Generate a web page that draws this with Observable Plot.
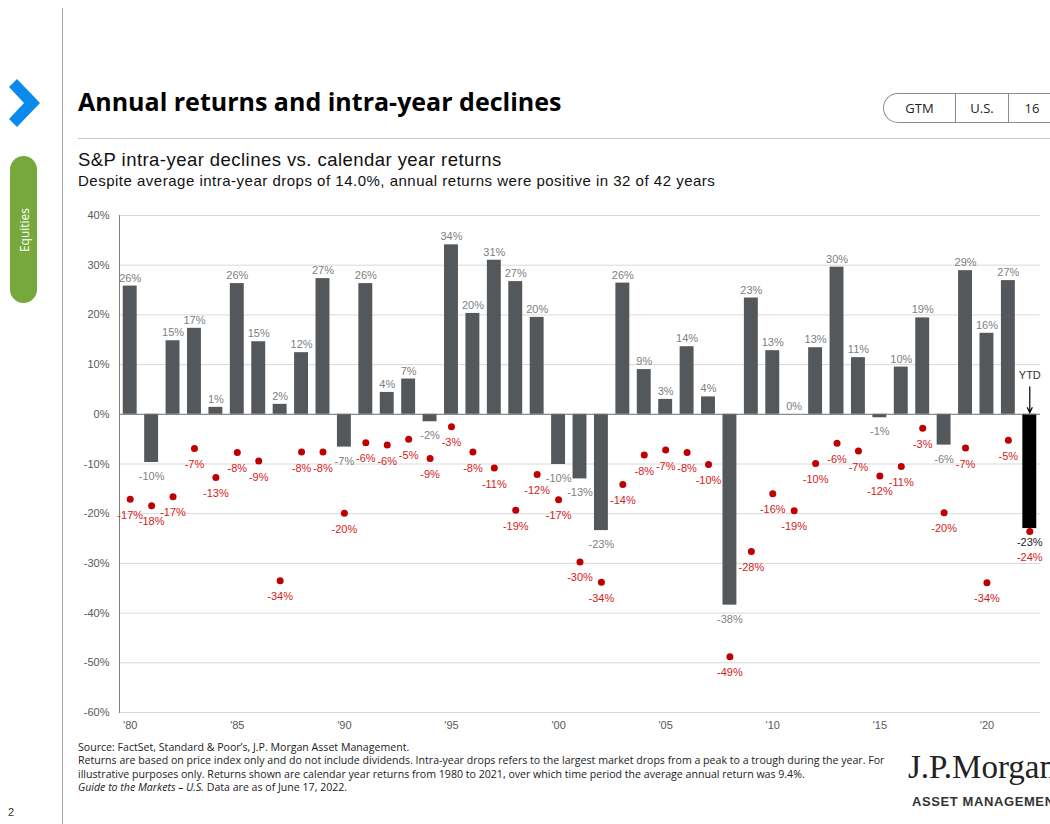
<!DOCTYPE html>
<html><head><meta charset="utf-8">
<script src="https://cdn.jsdelivr.net/npm/d3@7"></script>
<script src="https://cdn.jsdelivr.net/npm/@observablehq/plot@0.6"></script>
<style>
html,body{margin:0;padding:0;background:#fff;}
body{width:1050px;height:824px;overflow:hidden;position:relative;font-family:"Liberation Sans",Arial,sans-serif;color:#000;}
.abs{position:absolute;white-space:nowrap;}
#title{left:78px;top:84px;font-family:"Open Sans",sans-serif;font-weight:700;font-size:25px;line-height:34px;color:#000;}
#sub1{left:78px;top:150px;font-size:18.5px;line-height:20px;color:#111;letter-spacing:0.45px;}
#sub2{left:78px;top:172px;font-size:15px;line-height:18px;color:#111;letter-spacing:0.5px;}
#foot{left:78px;top:741px;font-family:"Open Sans",sans-serif;font-size:10.6px;line-height:13.4px;color:#222;}
#gtm{left:883px;top:93px;width:200px;height:28px;border:1px solid #8c8c8c;border-right:none;border-radius:15px 0 0 15px;font-family:"Open Sans",sans-serif;font-size:13px;color:#222;}
#gtm span{position:absolute;top:0;line-height:28px;text-align:center;}
.div{position:absolute;top:0;width:1px;height:28px;background:#8c8c8c;}
#pill{left:10px;top:156px;width:27px;height:147px;border-radius:14px;background:#76a83b;}
#pill span{position:absolute;left:50%;top:50%;transform:translate(-50%,-50%) rotate(-90deg);color:#fff;font-family:"Open Sans",sans-serif;font-size:12px;}
#logo1{left:908px;top:749px;font-family:"Liberation Serif",serif;font-size:33px;line-height:36px;color:#222;letter-spacing:0px;}
#logo2{left:912px;top:794px;font-family:"Liberation Sans",sans-serif;font-size:13px;line-height:16px;color:#333;letter-spacing:0.6px;font-weight:700;}
</style></head><body>
<div class="abs" style="left:62px;top:8px;width:1px;height:816px;background:#a6a6a6;"></div>
<svg class="abs" style="left:0;top:70px;" width="50" height="70"><polygon points="9,17 17,9 40,33 17,57 9,49 24,33" fill="#0b8aee"/></svg>
<div id="pill" class="abs"><span>Equities</span></div>
<div class="abs" style="left:8px;top:806px;font-size:11px;color:#333;">2</div>
<div id="title" class="abs">Annual returns and intra-year declines</div>
<div class="abs" style="left:78px;top:138px;width:972px;height:1px;background:#c8c8c8;"></div>
<div id="gtm" class="abs">
  <span style="left:0;width:71px;">GTM</span>
  <div class="div" style="left:71px;"></div>
  <span style="left:72px;width:52px;">U.S.</span>
  <div class="div" style="left:124px;"></div>
  <span style="left:125px;width:46px;">16</span>
</div>
<div id="sub1" class="abs">S&amp;P intra-year declines vs. calendar year returns</div>
<div id="sub2" class="abs">Despite average intra-year drops of 14.0%, annual returns were positive in 32 of 42 years</div>
<div id="chart" class="abs" style="left:60px;top:205px;"></div>
<div id="foot" class="abs">Source: FactSet, Standard &amp; Poor’s, J.P. Morgan Asset Management.<br>Returns are based on price index only and do not include dividends. Intra-year drops refers to the largest market drops from a peak to a trough during the year. For<br>illustrative purposes only. Returns shown are calendar year returns from 1980 to 2021, over which time period the average annual return was 9.4%.<br><i>Guide to the Markets – U.S.</i> Data are as of June 17, 2022.</div>
<div id="logo1" class="abs">J.P.Morgan</div>
<div id="logo2" class="abs">ASSET MANAGEMENT</div>
<script>
const years = [1980,1981,1982,1983,1984,1985,1986,1987,1988,1989,1990,1991,1992,1993,1994,1995,1996,1997,1998,1999,2000,2001,2002,2003,2004,2005,2006,2007,2008,2009,2010,2011,2012,2013,2014,2015,2016,2017,2018,2019,2020,2021,2022];
const annualReturns = [25.8,-9.7,14.8,17.3,1.4,26.3,14.6,2.0,12.4,27.3,-6.6,26.3,4.4,7.1,-1.5,34.1,20.3,31.0,26.7,19.5,-10.1,-13.0,-23.4,26.4,9.0,3.0,13.6,3.5,-38.4,23.4,12.8,0.0,13.4,29.6,11.4,-0.7,9.5,19.4,-6.2,28.9,16.3,26.9,-23.0];
const intraYearDeclines = [-17.1,-18.4,-16.6,-6.9,-12.7,-7.7,-9.4,-33.5,-7.6,-7.6,-19.9,-5.7,-6.2,-5.0,-8.9,-2.5,-7.6,-10.8,-19.3,-12.1,-17.2,-29.7,-33.8,-14.1,-8.2,-7.2,-7.7,-10.1,-48.8,-27.6,-16.0,-19.4,-9.9,-5.8,-7.4,-12.4,-10.5,-2.8,-19.8,-6.8,-33.9,-5.2,-23.6];
const yTicks = [40,30,20,10,0,-10,-20,-30,-40,-50,-60];
const yTickLabels = ["40%","30%","20%","10%","0%","-10%","-20%","-30%","-40%","-50%","-60%"];
const xTickYears = [1980,1985,1990,1995,2000,2005,2010,2015,2020];
const xTickLabels = ["'80","'85","'90","'95","'00","'05","'10","'15","'20"];
const ytdYear = 2022;
const ytdLabel = "YTD";
const ytdArrow = {top: 5.5, bottom: 0.3, label: 7.8};

const data = years.map((year, i) => ({year, ret: annualReturns[i], drop: intraYearDeclines[i]}));
const fmt = v => `${Math.sign(v) * Math.round(Math.abs(v))}%`;
const FONT = "'Liberation Sans', Arial, sans-serif";

const chart = Plot.plot({
  width: 990, height: 535,
  marginLeft: 59, marginRight: 10, marginTop: 10, marginBottom: 28,
  style: {fontFamily: FONT, fontSize: "11px", color: "#595959", background: "transparent", overflow: "visible"},
  x: {type: "band", domain: years, paddingInner: 0.35, paddingOuter: 0.175, round: false, axis: null},
  y: {domain: [-60, 40], axis: null},
  marks: [
    Plot.gridY(yTicks.filter(d => d !== 0), {stroke: "#d9d9d9", strokeOpacity: 1}),
    Plot.axisY(yTicks, {tickSize: 0, tickPadding: 10, label: null, tickFormat: d => yTickLabels[yTicks.indexOf(d)], fill: "#595959", fontSize: 11}),
    Plot.axisX(xTickYears, {tickSize: 0, tickPadding: 9, label: null, tickFormat: d => xTickLabels[xTickYears.indexOf(d)], fill: "#595959", fontSize: 11}),
    Plot.barY(data, {x: "year", y: "ret", fill: d => d.year === ytdYear ? "#000000" : "#55585b"}),
    Plot.ruleY([0], {stroke: "#6e6e6e", strokeWidth: 1}),
    Plot.frame({anchor: "left", stroke: "#7f7f7f"}),
    Plot.text(data.filter(d => d.ret >= 0), {x: "year", y: "ret", text: d => fmt(d.ret), dy: -8, fill: "#808080", fontSize: 11}),
    Plot.text(data.filter(d => d.ret < 0), {x: "year", y: "ret", text: d => fmt(d.ret), dy: 14, fill: d => d.year === ytdYear ? "#222" : "#808080", fontSize: 11}),
    Plot.dot(data, {x: "year", y: "drop", r: 3.5, fill: "#c00000", stroke: "none"}),
    Plot.text(data.filter(d => d.year !== ytdYear), {x: "year", y: "drop", text: d => fmt(d.drop), dy: 16, fill: "#d41a1a", fontSize: 11}),
    Plot.text(data.filter(d => d.year === ytdYear), {x: "year", y: "drop", text: d => fmt(d.drop), dy: 26, fill: "#d41a1a", fontSize: 11}),
    Plot.arrow(data.filter(d => d.year === ytdYear), {x1: "year", x2: "year", y1: () => ytdArrow.top, y2: () => ytdArrow.bottom, stroke: "#000", strokeWidth: 1.2, headLength: 7, headAngle: 50}),
    Plot.text(data.filter(d => d.year === ytdYear), {x: "year", y: () => ytdArrow.label, text: () => ytdLabel, fill: "#333", fontSize: 11})
  ]
});
document.getElementById("chart").appendChild(chart);
</script>
</body></html>
